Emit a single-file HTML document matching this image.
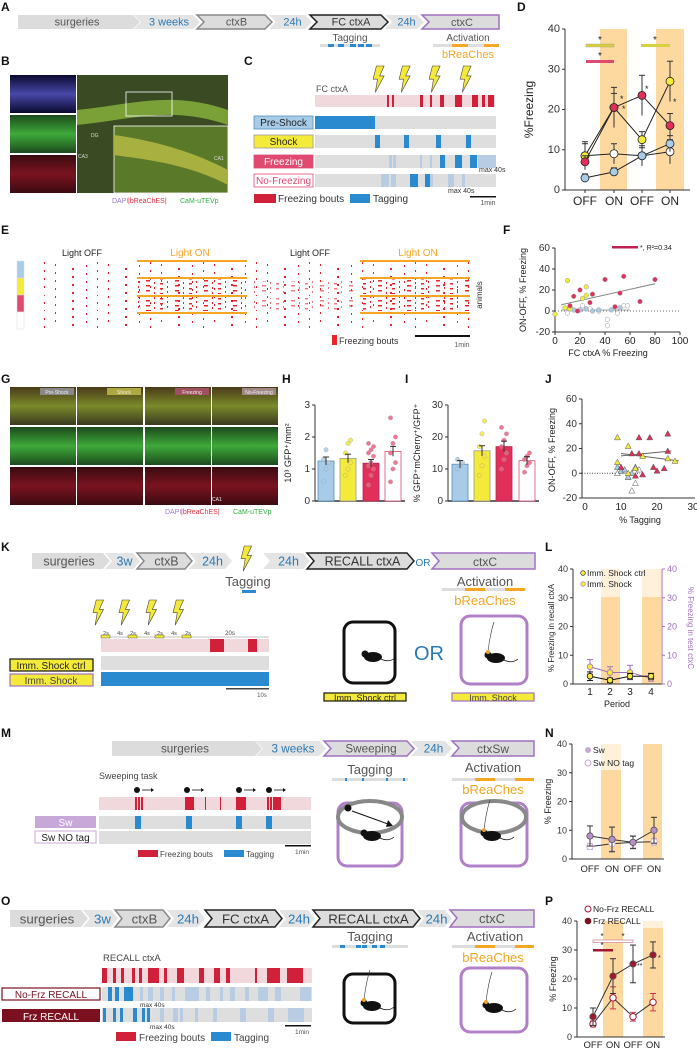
<!DOCTYPE html>
<html><head><meta charset="utf-8"><style>
body{margin:0;background:#fff}
svg{display:block;font-family:"Liberation Sans",Arial,sans-serif}
</style></head><body>
<svg id="fig" width="697" height="1050" viewBox="0 0 697 1050" xmlns="http://www.w3.org/2000/svg">
<defs>
<pattern id="rast" width="53" height="8" patternUnits="userSpaceOnUse">
<rect x="2" y="0" width="1" height="2" fill="#e8232a"/><rect x="19" y="4" width="2" height="2" fill="#e8232a"/><rect x="33" y="1" width="1" height="2" fill="#e8232a"/><rect x="44" y="6" width="1" height="2" fill="#e8232a"/>
</pattern>
<pattern id="rast2" width="29" height="5" patternUnits="userSpaceOnUse">
<rect x="1" y="0" width="4" height="1.5" fill="#e8232a"/><rect x="9" y="2" width="1" height="2" fill="#e8232a"/><rect x="15" y="3" width="3" height="1.5" fill="#e8232a"/><rect x="22" y="1" width="1" height="2" fill="#e8232a"/>
</pattern>
<linearGradient id="gG" x1="0" y1="0" x2="0" y2="1"><stop offset="0" stop-color="#1c4a1c"/><stop offset=".5" stop-color="#3faa3a"/><stop offset="1" stop-color="#1c4a1c"/></linearGradient>
<linearGradient id="gR" x1="0" y1="0" x2="0" y2="1"><stop offset="0" stop-color="#3a0a10"/><stop offset=".5" stop-color="#7a1420"/><stop offset="1" stop-color="#3a0a10"/></linearGradient>
<linearGradient id="gB" x1="0" y1="0" x2="0" y2="1"><stop offset="0" stop-color="#0a0a30"/><stop offset=".5" stop-color="#4848a8"/><stop offset="1" stop-color="#0a0a30"/></linearGradient>
<linearGradient id="gM" x1="0" y1="0" x2="0" y2="1"><stop offset="0" stop-color="#4a3a18"/><stop offset=".5" stop-color="#7a8a2a"/><stop offset="1" stop-color="#3a3a20"/></linearGradient>
</defs>
<g id="root"></g>
</svg>
<script>
// ---------- DATA ----------
const dCats=["OFF","ON","OFF","ON"];
const dBlue=[3,4.5,8.5,11.5];
const dWhite=[8.5,9,8.5,9.5];
const dYellow=[8.5,20.5,12.5,27];
const dPink=[7,20.5,23.5,16];
const dYTicks=[0,10,20,30,40];
const fPinkX=[12,15,20,28,30,40,48,52,55,68,80,18];
const fPinkY=[5,14,20,8,16,30,4,17,33,9,30,0];
const fYelX=[0,10,12,25,22,25,12,8];
const fYelY=[-3,29,4,23,12,15,2,3];
const fBlueX=[15,20,25,35,45,52,30];
const fBlueY=[1,1,2,1,1,3,0];
const fWhiteX=[10,22,28,50,55,42,42,58,35];
const fWhiteY=[-2,5,2,-2,5,-8,-14,5,0];
const fXTicks=[0,20,40,60,80,100];
const fYTicks=[-20,0,20,40,60];
const hMeans=[1.25,1.33,1.18,1.55];
const hDots=[[0.6,1,1.2,1.3,1.6],[0.8,1,1.2,1.5,1.8,1.9],[0.5,0.8,1,1.1,1.2,1.4,1.5,1.6,1.7,1.8],[0.6,1,1.2,1.5,1.8,2,2.6]];
const hTicks=[0,1,2,3];
const iMeans=[11.5,15.7,17,12.6];
const iDots=[[10,11,12,13],[8,11,14,17,21,25],[10,13,15,17,19,21,23],[9,11,12,13,14,15]];
const iTicks=[0,10,20,30];
const jPinkX=[10,13,15,15,16,18,19,20,22,23,23,14];
const jPinkY=[5,16,29,16,-1,29,5,2,4,32,18,-2];
const jYelX=[9,9,12,14,16,23,25,12];
const jYelY=[29,9,22,4,14,12,10,0];
const jBlueX=[9,10,12,13,11,14];
const jBlueY=[5,2,-3,0,3,5];
const jWhiteX=[9,13,14,15,12];
const jWhiteY=[0,-14,-8,3,-3];
const jXTicks=[0,10,20,30];
const jYTicks=[-20,0,20,40,60];
const lCats=["1","2","3","4"];
const lCtrl=[2.7,1.3,2.7,2.7];
const lShock=[6,4,4,2];
const lTicks=[0,10,20,30,40];
const nSw=[8,6.8,5.8,10];
const nNoTag=[4.3,5.3,5.8,6];
const pNoFrz=[4.5,13.5,7,12];
const pFrz=[7,21,25.2,28.3];
const pNoFrzErr=[1,3.8,1.5,3];
const pFrzErr=[3,6,6.5,4.5];

// ---------- helpers ----------
const NS="http://www.w3.org/2000/svg";
const root=document.getElementById('root');
function el(tag,attrs,parent,txt){const e=document.createElementNS(NS,tag);for(const k in attrs)e.setAttribute(k,attrs[k]);if(txt!==undefined)e.textContent=txt;(parent||root).appendChild(e);return e;}
function grp(name){const g=el('g',{});return g;}
function T(x,y,s,size,fill,g,anchor,extra){const t=el('text',Object.assign({x:x,y:y,'font-size':size||9,fill:fill||'#333','text-anchor':anchor||'start'},extra||{}),g,s);return t;}
function chev(g,x1,x2,y,h,fill,stroke,label,col,first){
  const p=7,m=y+h/2;
  const pts=first?`${x1},${y} ${x2-p},${y} ${x2},${m} ${x2-p},${y+h} ${x1},${y+h}`:`${x1},${y} ${x2-p},${y} ${x2},${m} ${x2-p},${y+h} ${x1},${y+h} ${x1+p},${m}`;
  el('polygon',{points:pts,fill:fill,stroke:stroke||'none','stroke-width':stroke?1.5:0},g);
  if(label)T((x1+x2)/2+(first?-2:2),y+h-3.5,label,h*0.78,col||'#555',g,'middle');
}
function panelLabel(s,x,y){const t=T(x,y,s,12,'#111',null,'start',{'font-weight':'bold'});}
function axesY(g,x,y0,y1,ticks,scale,size){el('line',{x1:x,y1:y0,x2:x,y2:y1,stroke:'#333','stroke-width':1},g);ticks.forEach(v=>{const y=scale(v);el('line',{x1:x-3,y1:y,x2:x,y2:y,stroke:'#333'},g);T(x-5,y+3,String(v),size||9,'#333',g,'end');});}
function bolt(g,x,y,s){el('polygon',{points:`${x+4*s},${y} ${x+11*s},${y} ${x+7*s},${y+9*s} ${x+11*s},${y+9*s} ${x+3*s},${y+24*s} ${x+5*s},${y+12*s} ${x+1*s},${y+12*s}`,fill:'#f4e93a',stroke:'#444','stroke-width':0.6},g);}
function box(g,x,y,w,h,stroke){el('rect',{x:x,y:y,width:w,height:h,rx:9,fill:'#fff',stroke:stroke,'stroke-width':3},g);}
function mouse(g,x,y,fib){el('ellipse',{cx:x,cy:y,rx:9,ry:5,fill:'#111'},g);el('circle',{cx:x-8,cy:y-3,r:3.5,fill:'#111'},g);el('path',{d:`M${x+8},${y+2} q8,4 14,-1`,stroke:'#111',fill:'none','stroke-width':0.8},g);if(fib){el('path',{d:`M${x-8},${y-6} q2,-18 6,-30`,stroke:'#333',fill:'none','stroke-width':0.6},g);el('circle',{cx:x-8,cy:y-6,r:2,fill:'#f0a030'},g);}}

// ---------- PANEL A ----------
panelLabel('A',1,11);
(function(){const g=grp('timeline-a');
chev(g,18,140,15,14,'#dcdcdc',null,'surgeries','#555',true);
chev(g,134,200,15,14,'#e4e4e4',null,'3 weeks','#2a7ab5');
chev(g,197,272,15,14,'#dcdcdc','#888','ctxB','#555');
chev(g,269,312,15,14,'#e4e4e4',null,'24h','#2a7ab5');
chev(g,310,388,15,14,'#dcdcdc','#222','FC ctxA','#333');
chev(g,385,424,15,14,'#e4e4e4',null,'24h','#2a7ab5');
el('polygon',{points:'422,15 499,15 499,29 422,29 429,22',fill:'#dcdcdc',stroke:'#a070c0','stroke-width':1.5},g);T(462,26,'ctxC',11,'#555',g,'middle');
T(350,41,'Tagging',10,'#555',g,'middle');el('rect',{x:320,y:44,width:60,height:3,fill:'#ddd'},g);[328,338,350,358,366].forEach(x=>el('rect',{x:x,y:44,width:6,height:3,fill:'#2a8ad0'},g));
T(468,41,'Activation',10,'#555',g,'middle');el('rect',{x:433,y:44,width:66,height:3,fill:'#ddd'},g);el('rect',{x:452,y:44,width:16,height:3,fill:'#f5a623'},g);el('rect',{x:484,y:44,width:15,height:3,fill:'#f5a623'},g);
T(468,58,'bReaChes',11,'#f5a623',g,'middle');})();

// ---------- PANEL B ----------
panelLabel('B',1,65);
(function(){const g=grp('histology-b');
el('rect',{x:10,y:75,width:66,height:38,fill:'url(#gB)'},g);
el('rect',{x:10,y:115,width:66,height:38,fill:'url(#gG)'},g);
el('rect',{x:10,y:155,width:66,height:38,fill:'url(#gR)'},g);
el('rect',{x:77,y:75,width:151,height:118,fill:'#3a4a22'},g);
el('path',{d:'M77,110 C130,105 170,90 228,110 L228,125 C170,105 130,120 77,125Z',fill:'#7aa038'},g);
el('rect',{x:114,y:126,width:114,height:67,fill:'#5a7a2a',stroke:'#fff','stroke-width':0.8},g);
el('path',{d:'M114,135 C150,140 190,150 228,170 L228,185 C190,165 150,160 114,155Z',fill:'#a8b040'},g);
el('rect',{x:126,y:92,width:46,height:24,fill:'none',stroke:'#fff','stroke-width':0.8},g);
T(91,137,'DG',5,'#ddd',g);T(78,158,'CA3',5,'#ddd',g);T(214,160,'CA1',5,'#ddd',g);
T(112,203,'DAPI',7,'#9a7ad0',g);T(128,203,'|bReaChES|',7,'#e03040',g);T(180,203,'CaM-uTEVp',7,'#30b040',g);})();

// ---------- PANEL C ----------
panelLabel('C',244,65);
(function(){const g=grp('protocol-c');
T(316,92,'FC ctxA',9,'#555',g);[372,398,428,459].forEach(x=>bolt(g,x,66,1.1));
el('rect',{x:315,y:95,width:180,height:12,fill:'#f0d8dc'},g);
[[387,2],[392,2],[420,3],[430,2],[440,4],[455,7],[472,6],[482,3],[488,6]].forEach(b=>el('rect',{x:b[0],y:95,width:b[1],height:12,fill:'#d0203a'},g));
const rows=[['Pre-Shock',116,'#a8cce8','#5090c0','#222'],['Shock',135,'#f4ea3a','#999','#222'],['Freezing',155,'#e04a70','#e04a70','#fff'],['No-Freezing',174,'#fff','#e04a70','#e04a70']];
rows.forEach(r=>{el('rect',{x:254,y:r[1],width:59,height:13,fill:r[2],stroke:r[3],'stroke-width':0.8},g);T(283.5,r[1]+10,r[0],10,r[4],g,'middle');el('rect',{x:315,y:r[1],width:181,height:13,fill:'#dedede'},g);});
el('rect',{x:315,y:116,width:60,height:13,fill:'#2a8ad0'},g);
[375,404,436,466].forEach(x=>el('rect',{x:x,y:135,width:5,height:13,fill:'#2a8ad0'},g));
[[389,3],[393,3],[420,2],[430,2],[440,5],[455,7],[470,7]].forEach((b,i)=>el('rect',{x:b[0],y:155,width:b[1],height:13,fill:i>3?'#2a8ad0':'#b8cce4'},g));
el('rect',{x:478,y:155,width:18,height:13,fill:'#b8cce4'},g);
[[381,8],[391,5],[410,8],[425,5],[430,3],[448,6],[462,3]].forEach((b,i)=>el('rect',{x:b[0],y:174,width:b[1],height:13,fill:(i==2||i==3)?'#2a8ad0':'#b8cce4'},g));
T(479,172,'max 40s',7,'#333',g);T(448,193,'max 40s',7,'#333',g);
el('rect',{x:254,y:194,width:22,height:9,fill:'#d0203a'},g);T(278,202,'Freezing bouts',10,'#333',g);
el('rect',{x:350,y:194,width:20,height:9,fill:'#2a8ad0'},g);T(373,202,'Tagging',10,'#333',g);
el('rect',{x:470,y:196,width:26,height:1.5,fill:'#111'},g);T(488,205,'1min',7,'#555',g,'middle');})();

// ---------- PANEL D ----------
panelLabel('D',517,11);
(function(){const g=grp('chart-d');
const ax=565,y0=190,y1=29,xs=[585,614,642,670];
const y=v=>y0-(v/40)*(y0-y1);
el('rect',{x:600,y:y1,width:27,height:y0-y1,fill:'#fdd9a0'},g);el('rect',{x:656,y:y1,width:28,height:y0-y1,fill:'#fdd9a0'},g);
axesY(g,ax,y0,y1,dYTicks,y,11);el('line',{x1:ax,y1:y0,x2:690,y2:y0,stroke:'#333'},g);
dCats.forEach((c,i)=>{el('line',{x1:xs[i],y1:y0,x2:xs[i],y2:y0+3,stroke:'#333'},g);T(xs[i],y0+15,c,12,'#222',g,'middle');});
T(0,0,'%Freezing',12,'#222',g,'middle',{transform:`translate(533,${(y0+y1)/2}) rotate(-90)`});
el('rect',{x:586,y:44,width:28,height:3,fill:'#d8d040',stroke:'#888','stroke-width':0.3},g);el('rect',{x:641,y:44,width:29,height:3,fill:'#d8d040'},g);el('rect',{x:586,y:60,width:28,height:3,fill:'#e04a70'},g);
T(600,43,'*',10,'#222',g,'middle');T(655,43,'*',10,'#222',g,'middle');T(600,59,'*',10,'#222',g,'middle');
const ser=[[dWhite,'#fff',[3,2.5,2.5,3]],[dBlue,'#a8cce8',[1,1,2,2]],[dYellow,'#f4ea3a',[3.5,3.5,2,5]],[dPink,'#e0305a',[1.5,5,5,3]]];
ser.forEach((s,si)=>{const sg=el('g',{},g);
 el('polyline',{points:s[0].map((v,i)=>xs[i]+','+y(v)).join(' '),fill:'none',stroke:'#222','stroke-width':1},sg);
 s[0].forEach((v,i)=>{el('line',{x1:xs[i],y1:y(v-s[2][i]),x2:xs[i],y2:y(v+s[2][i]),stroke:'#333'},sg);el('line',{x1:xs[i]-3,y1:y(v+s[2][i]),x2:xs[i]+3,y2:y(v+s[2][i]),stroke:'#333'},sg);el('circle',{cx:xs[i],cy:y(v),r:4,fill:s[1],stroke:'#222','stroke-width':0.8},sg);});});
T(620,102,'*',9,'#222',g);T(622,112,'*',9,'#222',g);T(645,92,'*',9,'#222',g);T(673,105,'*',9,'#222',g);})();

// ---------- PANEL E ----------
panelLabel('E',1,234);
(function(){const g=grp('raster-e');
T(82,256,'Light OFF',9,'#222',g,'middle');T(190,256,'Light ON',10,'#f5a623',g,'middle');T(310,256,'Light OFF',9,'#222',g,'middle');T(418,256,'Light ON',10,'#f5a623',g,'middle');
const cols=[['#a8cce8',261],['#f4ea3a',278],['#e04a70',295],['#fff',312]];
cols.forEach(c=>el('rect',{x:17,y:c[1],width:7,height:17,fill:c[0],stroke:'#ddd','stroke-width':0.5},g));
[262,278,295,312].forEach(yy=>el('rect',{x:42,y:yy,width:428,height:16,fill:'url(#rast)'},g));
[278,295].forEach(yy=>{el('rect',{x:137,y:yy+1,width:110,height:15,fill:'url(#rast2)'},g);el('rect',{x:360,y:yy+1,width:110,height:15,fill:'url(#rast2)'},g);el('rect',{x:250,y:yy+3,width:105,height:12,fill:'url(#rast2)',opacity:0.6},g);});
[260,277,295,312].forEach(yy=>{el('rect',{x:137,y:yy,width:110,height:2,fill:'#f5a623'},g);el('rect',{x:360,y:yy,width:110,height:2,fill:'#f5a623'},g);});
T(0,0,'animals',8,'#333',g,'middle',{transform:'translate(482,295) rotate(-90)'});
el('rect',{x:332,y:335,width:5,height:10,fill:'#e8232a'},g);T(339,344,'Freezing bouts',9,'#333',g);
el('rect',{x:415,y:335,width:55,height:2,fill:'#111'},g);T(462,347,'1min',7,'#555',g,'middle');})();

// ---------- PANEL F ----------
panelLabel('F',503,234);
(function(){const g=grp('chart-f');
const ax=555,y0=332,y1=248,x=v=>ax+v*1.25,y=v=>y0-(v+20)/80*(y0-y1);
axesY(g,ax,y0,y1,fYTicks,y,10);el('line',{x1:ax,y1:y0,x2:680,y2:y0,stroke:'#333'},g);
fXTicks.forEach(v=>{el('line',{x1:x(v),y1:y0,x2:x(v),y2:y0+3,stroke:'#333'},g);T(x(v),y0+12,String(v),10,'#222',g,'middle');});
el('line',{x1:ax,y1:y(0),x2:680,y2:y(0),stroke:'#666','stroke-dasharray':'1,2'},g);
T(608,356,'FC ctxA % Freezing',9,'#222',g,'middle');T(0,0,'ON-OFF, % Freezing',9,'#222',g,'middle',{transform:'translate(526,290) rotate(-90)'});
el('line',{x1:x(5),y1:y(6),x2:x(80),y2:y(26),stroke:'#888'},g);el('line',{x1:x(5),y1:y(1),x2:x(60),y2:y(1),stroke:'#aaa'},g);
[[fWhiteX,fWhiteY,'#fff'],[fBlueX,fBlueY,'#a8cce8'],[fYelX,fYelY,'#f4ea3a'],[fPinkX,fPinkY,'#e0305a']].forEach(s=>s[0].forEach((v,i)=>el('circle',{cx:x(v),cy:y(s[1][i]),r:2.3,fill:s[2],stroke:'#999','stroke-width':0.5},g)));
el('rect',{x:612,y:246,width:26,height:2.5,fill:'#c02050'},g);T(640,250,'*, R²=0.34',7,'#222',g);})();

// ---------- PANEL G ----------
panelLabel('G',1,383);
(function(){const g=grp('histology-g');
const xs=[10,77,145,212],labs=['Pre-Shock','Shock','Freezing','No-Freezing'],lc=['#888','#b0a840','#a05060','#a08888'];
xs.forEach((x,i)=>{el('rect',{x:x,y:387,width:66,height:38,fill:'url(#gM)'},g);el('rect',{x:x,y:427,width:66,height:38,fill:'url(#gG)'},g);el('rect',{x:x,y:467,width:66,height:38,fill:'url(#gR)'},g);
 el('rect',{x:x+30,y:388,width:34,height:7,fill:lc[i]},g);T(x+47,394,labs[i],5,'#eee',g,'middle');});
T(212,501,'CA1',5,'#eee',g);
T(165,514,'DAPI',7,'#9a7ad0',g);T(181,514,'|bReaChES|',7,'#e03040',g);T(233,514,'CaM-uTEVp',7,'#30b040',g);})();

// ---------- PANEL H & I ----------
function barChart(name,means,dots,ticks,ax,xs,y0,y1,title,tx){
 const g=grp(name);const mx=ticks[ticks.length-1];const y=v=>y0-v/mx*(y0-y1);
 const fills=['#a8cce8','#f4ea3a','#e0305a','#fff'],strokes=['#5090c0','#999','#c02050','#e04a70'],dc=['#a8cce8','#f4ea3a','#f06080','#f06080'];
 axesY(g,ax,y0,y1,ticks,y,10);el('line',{x1:ax,y1:y0,x2:xs[3]+12,y2:y0,stroke:'#333','stroke-width':1.5},g);
 means.forEach((m,i)=>{el('rect',{x:xs[i]-8,y:y(m),width:16,height:y0-y(m),fill:fills[i],stroke:strokes[i],'stroke-width':0.8},g);
  dots[i].forEach((d,j)=>el('circle',{cx:xs[i]+((j%3)-1)*2.5,cy:y(d),r:2.2,fill:dc[i],stroke:'#999','stroke-width':0.4,opacity:0.85},g));
  el('line',{x1:xs[i],y1:y(m*0.9),x2:xs[i],y2:y(m*1.1),stroke:'#333'},g);el('line',{x1:xs[i]-3,y1:y(m*1.1),x2:xs[i]+3,y2:y(m*1.1),stroke:'#333'},g);});
 T(0,0,title,9,'#222',g,'middle',{transform:`translate(${tx},${(y0+y1)/2}) rotate(-90)`});
}
panelLabel('H',282,383);panelLabel('I',405,383);
barChart('chart-h',hMeans,hDots,hTicks,315,[326,348,371,393],501,405,'10³ GFP⁺/mm²',291);
barChart('chart-i',iMeans,iDots,iTicks,448,[460,482,504,527],501,405,'% GFP⁺mCherry⁺/GFP⁺',420);

// ---------- PANEL J ----------
panelLabel('J',545,383);
(function(){const g=grp('chart-j');
const ax=582,y0=498,y1=399,x=v=>585+v*3.6,y=v=>y0-(v+20)/80*(y0-y1);
axesY(g,ax,y0,y1,jYTicks,y,10);el('line',{x1:ax,y1:y0,x2:695,y2:y0,stroke:'#333'},g);
jXTicks.forEach(v=>{T(x(v),y0+12,String(v),10,'#222',g,'middle');});
el('line',{x1:ax,y1:y(0),x2:640,y2:y(0),stroke:'#444','stroke-dasharray':'1,1.5'},g);
T(640,523,'% Tagging',9,'#222',g,'middle');T(0,0,'ON-OFF, % Freezing',9,'#222',g,'middle',{transform:'translate(555,450) rotate(-90)'});
el('line',{x1:x(10),y1:y(14),x2:x(24),y2:y(18),stroke:'#666'},g);el('line',{x1:x(10),y1:y(16),x2:x(26),y2:y(10),stroke:'#666'},g);
[[jWhiteX,jWhiteY,'#fff'],[jBlueX,jBlueY,'#a8cce8'],[jYelX,jYelY,'#f4ea3a'],[jPinkX,jPinkY,'#e0305a']].forEach(s=>s[0].forEach((v,i)=>{const cx=x(v),cy=y(s[1][i]);el('polygon',{points:`${cx},${cy-3} ${cx+3},${cy+2.5} ${cx-3},${cy+2.5}`,fill:s[2],stroke:'#555','stroke-width':0.5},g);}));})();

// ---------- PANEL K ----------
panelLabel('K',1,551);
(function(){const g=grp('protocol-k');
chev(g,32,110,553,16,'#dcdcdc',null,'surgeries','#555',true);
chev(g,105,140,553,16,'#e4e4e4',null,'3w','#2a7ab5');
chev(g,137,192,553,16,'#dcdcdc','#888','ctxB','#555');
chev(g,189,232,553,16,'#e4e4e4',null,'24h','#2a7ab5');
bolt(g,240,546,1.05);
chev(g,263,310,553,16,'#e4e4e4',null,'24h','#2a7ab5');
chev(g,307,414,553,16,'#dcdcdc','#222','RECALL ctxA','#333');
T(423,566,'OR',10,'#2a7ab5',g,'middle');
el('polygon',{points:'432,553 535,553 535,569 432,569 439,561',fill:'#dcdcdc',stroke:'#a070c0','stroke-width':1.5},g);T(485,566,'ctxC',12,'#555',g,'middle');
T(248,586,'Tagging',13,'#555',g,'middle');el('rect',{x:242,y:590,width:14,height:3,fill:'#2a8ad0'},g);
T(485,586,'Activation',13,'#555',g,'middle');el('rect',{x:442,y:588,width:84,height:3,fill:'#ddd'},g);el('rect',{x:465,y:588,width:20,height:3,fill:'#f5a623'},g);el('rect',{x:505,y:588,width:20,height:3,fill:'#f5a623'},g);
T(485,605,'bReaChes',13,'#f5a623',g,'middle');
[92,118,145,172].forEach(x=>bolt(g,x,600,1.05));
T(106,635,'2s',5.5,'#444',g,'middle');T(120,635,'4s',5.5,'#444',g,'middle');T(133,635,'2s',5.5,'#444',g,'middle');T(147,635,'4s',5.5,'#444',g,'middle');T(160,635,'2s',5.5,'#444',g,'middle');T(174,635,'4s',5.5,'#444',g,'middle');T(188,635,'2s',5.5,'#444',g,'middle');T(230,635,'20s',6,'#444',g,'middle');
el('line',{x1:101,y1:637,x2:269,y2:637,stroke:'#888','stroke-width':0.6},g);
[101,128,155,182].forEach(x=>el('rect',{x:x,y:635,width:9,height:3,fill:'#f4ea3a',stroke:'#333','stroke-width':0.4},g));
el('rect',{x:101,y:639,width:168,height:13,fill:'#f0d8dc'},g);el('rect',{x:210,y:639,width:14,height:13,fill:'#d0203a'},g);el('rect',{x:248,y:639,width:9,height:13,fill:'#d0203a'},g);
el('rect',{x:101,y:656,width:168,height:14,fill:'#dedede'},g);el('rect',{x:101,y:672,width:168,height:14,fill:'#2a8ad0'},g);
el('rect',{x:10,y:659,width:83,height:12,fill:'#f4ea3a',stroke:'#111','stroke-width':1.2},g);T(51,669,'Imm. Shock ctrl',10,'#222',g,'middle');
el('rect',{x:10,y:674,width:83,height:12,fill:'#f4ea3a',stroke:'#a070c0','stroke-width':1.2},g);T(51,684,'Imm. Shock',10,'#444',g,'middle');
el('rect',{x:226,y:688,width:43,height:1.5,fill:'#444'},g);T(262,697,'10s',6,'#555',g,'middle');
box(g,344,622,51,61,'#111');mouse(g,373,657,false);
T(429,660,'OR',20,'#2a7ab5',g,'middle');
box(g,461,616,66,68,'#b080c8');mouse(g,496,658,true);
el('rect',{x:324,y:693,width:82,height:8,fill:'#f4ea3a',stroke:'#111','stroke-width':1.2},g);T(365,701,'Imm. Shock ctrl',9,'#222',g,'middle');
el('rect',{x:452,y:693,width:82,height:8,fill:'#f4ea3a',stroke:'#a070c0','stroke-width':1.2},g);T(493,701,'Imm. Shock',9,'#444',g,'middle');})();

// ---------- line chart helper ----------
function lineChart(name,g,xs,y,seriesList){
 seriesList.forEach((s,si)=>{const sg=el('g',{},g);
  el('polyline',{points:s.vals.map((v,i)=>xs[i]+','+y(v)).join(' '),fill:'none',stroke:s.line,'stroke-width':1},sg);
  s.vals.forEach((v,i)=>{const e=s.err[i];el('line',{x1:xs[i],y1:y(v-e),x2:xs[i],y2:y(v+e),stroke:s.ec},sg);el('line',{x1:xs[i]-3,y1:y(v+e),x2:xs[i]+3,y2:y(v+e),stroke:s.ec},sg);el('line',{x1:xs[i]-3,y1:y(v-e),x2:xs[i]+3,y2:y(v-e),stroke:s.ec},sg);el('circle',{cx:xs[i],cy:y(v),r:s.r||3.2,fill:s.fill,stroke:s.stroke,'stroke-width':s.sw||0.8},sg);});});
}

// ---------- PANEL L ----------
panelLabel('L',545,551);
(function(){const g=grp('chart-l');
const ax=573,y0=684,y1=569,xs=[590,610,630,651],y=v=>y0-v/40*(y0-y1);
el('rect',{x:601,y:y1,width:19,height:y0-y1,fill:'#fdd9a0'},g);el('rect',{x:642,y:y1,width:19,height:y0-y1,fill:'#fdd9a0'},g);
el('rect',{x:601,y:y1,width:19,height:28,fill:'#fff',opacity:0.6},g);el('rect',{x:642,y:y1,width:19,height:28,fill:'#fff',opacity:0.6},g);
axesY(g,ax,y0,y1,lTicks,y,9);el('line',{x1:ax,y1:y0,x2:662,y2:y0,stroke:'#333'},g);
el('line',{x1:662,y1:y0,x2:662,y2:y1,stroke:'#a070c0'},g);lTicks.forEach(v=>{el('line',{x1:662,y1:y(v),x2:665,y2:y(v),stroke:'#a070c0'},g);T(667,y(v)+3,String(v),9,'#a070c0',g);});
lCats.forEach((c,i)=>T(xs[i],y0+11,c,10,'#222',g,'middle'));T(617,707,'Period',9,'#222',g,'middle');
T(0,0,'% Freezing in recall ctxA',8,'#222',g,'middle',{transform:'translate(554,628) rotate(-90)'});
T(0,0,'% Freezing in test ctxC',8,'#a070c0',g,'middle',{transform:'translate(688,628) rotate(90)'});
el('circle',{cx:583,cy:573,r:2.3,fill:'#f4ea3a',stroke:'#111','stroke-width':0.6},g);T(587,576,'Imm. Shock ctrl',8.5,'#222',g);
el('circle',{cx:583,cy:584,r:2.3,fill:'#f4ea3a',stroke:'#a070c0','stroke-width':0.6},g);T(587,587,'Imm. Shock',8.5,'#222',g);
lineChart('chart-l',g,xs,y,[{vals:lShock,err:[2.5,2,2.5,1],line:'#a070c0',ec:'#a070c0',fill:'#f4ea3a',stroke:'#a070c0',r:2.8},{vals:lCtrl,err:[1.5,0.8,1,1],line:'#111',ec:'#111',fill:'#f4ea3a',stroke:'#111',r:2.8}]);})();

// ---------- PANEL M ----------
panelLabel('M',1,737);
(function(){const g=grp('protocol-m');
chev(g,112,262,741,15,'#dcdcdc',null,'surgeries','#555',true);
chev(g,256,326,741,15,'#e4e4e4',null,'3 weeks','#2a7ab5');
chev(g,324,414,741,15,'#dcdcdc','#a070c0','Sweeping','#555');
chev(g,411,452,741,15,'#e4e4e4',null,'24h','#2a7ab5');
el('polygon',{points:'452,741 534,741 534,756 452,756 459,748',fill:'#dcdcdc',stroke:'#a070c0','stroke-width':1.5},g);T(493,753,'ctxSw',12,'#555',g,'middle');
T(370,774,'Tagging',13,'#555',g,'middle');el('rect',{x:332,y:778,width:76,height:3,fill:'#ddd'},g);[345,362,386,403].forEach(x=>el('rect',{x:x,y:778,width:2,height:3,fill:'#2a8ad0'},g));
T(493,772,'Activation',13,'#555',g,'middle');el('rect',{x:452,y:778,width:82,height:3,fill:'#ddd'},g);el('rect',{x:475,y:778,width:20,height:3,fill:'#f5a623'},g);el('rect',{x:515,y:778,width:19,height:3,fill:'#f5a623'},g);
T(493,794,'bReaChes',13,'#f5a623',g,'middle');
T(99,779,'Sweeping task',9,'#444',g);
[137,187,239,269].forEach(x=>{el('circle',{cx:x,cy:790,r:3,fill:'#111'},g);el('line',{x1:x+5,y1:790,x2:x+14,y2:790,stroke:'#111','stroke-width':0.8},g);el('polygon',{points:`${x+14},788 ${x+17},790 ${x+14},792`,fill:'#111'},g);});
el('rect',{x:99,y:797,width:212,height:13,fill:'#f0d8dc'},g);
[[135,2],[138,2],[141,2],[185,9],[205,1],[220,1],[236,10],[267,2],[270,2],[273,8]].forEach(b=>el('rect',{x:b[0],y:797,width:b[1],height:13,fill:'#d0203a'},g));
el('rect',{x:35,y:816,width:61,height:12,fill:'#c8a8d8'},g);T(65.5,826,'Sw',10,'#fff',g,'middle');
el('rect',{x:99,y:816,width:212,height:13,fill:'#dedede'},g);[135,186,236,266].forEach(x=>el('rect',{x:x,y:816,width:6,height:13,fill:'#2a8ad0'},g));
el('rect',{x:35,y:831,width:61,height:12,fill:'#fff',stroke:'#c8a8d8','stroke-width':1},g);T(65.5,841,'Sw NO tag',10,'#222',g,'middle');
el('rect',{x:99,y:831,width:212,height:13,fill:'#dedede'},g);
el('rect',{x:138,y:850,width:20,height:7,fill:'#d0203a'},g);T(160,857,'Freezing bouts',8,'#444',g);
el('rect',{x:224,y:850,width:20,height:7,fill:'#2a8ad0'},g);T(246,857,'Tagging',8,'#444',g);
el('rect',{x:285,y:845,width:26,height:1.5,fill:'#111'},g);T(302,854,'1min',6.5,'#555',g,'middle');
box(g,338,803,64,63,'#b080c8');el('ellipse',{cx:370,cy:817,rx:32,ry:16,fill:'#fff',stroke:'#888','stroke-width':4},g);el('circle',{cx:348,cy:808,r:3.5,fill:'#111'},g);el('line',{x1:352,y1:811,x2:388,y2:824,stroke:'#111','stroke-width':1},g);el('polygon',{points:'388,820 393,826 386,827',fill:'#111'},g);mouse(g,372,836,false);
box(g,461,803,66,63,'#b080c8');el('ellipse',{cx:494,cy:817,rx:32,ry:16,fill:'#fff',stroke:'#888','stroke-width':4},g);mouse(g,492,836,true);})();

// ---------- PANEL N ----------
panelLabel('N',545,737);
(function(){const g=grp('chart-n');
const ax=572,y0=859,y1=744,xs=[590,612,633,654],y=v=>y0-v/40*(y0-y1);
el('rect',{x:601,y:y1,width:20,height:y0-y1,fill:'#fdd9a0'},g);el('rect',{x:643,y:y1,width:19,height:y0-y1,fill:'#fdd9a0'},g);el('rect',{x:601,y:y1,width:20,height:26,fill:'#fff',opacity:0.6},g);
axesY(g,ax,y0,y1,[0,10,20,30,40],y,9);el('line',{x1:ax,y1:y0,x2:664,y2:y0,stroke:'#333'},g);
dCats.forEach((c,i)=>T(xs[i],y0+13,c,9.5,'#222',g,'middle'));
T(0,0,'% Freezing',9,'#222',g,'middle',{transform:`translate(551,${(y0+y1)/2}) rotate(-90)`});
el('circle',{cx:588,cy:750,r:3,fill:'#c8a8d8'},g);T(593,753,'Sw',8.5,'#222',g);
el('circle',{cx:588,cy:763,r:3,fill:'#fff',stroke:'#c8a8d8'},g);T(593,766,'Sw NO tag',8.5,'#222',g);
lineChart('chart-n',g,xs,y,[{vals:nNoTag,err:[1,2.5,2,1.2],line:'#333',ec:'#c8a8d8',fill:'#fff',stroke:'#c8a8d8'},{vals:nSw,err:[3.5,4.3,2.2,4.5],line:'#333',ec:'#333',fill:'#b890c8',stroke:'#555'}]);})();

// ---------- PANEL O ----------
panelLabel('O',1,905);
(function(){const g=grp('protocol-o');
chev(g,10,88,910,17,'#dcdcdc',null,'surgeries','#555',true);
chev(g,83,118,910,17,'#e4e4e4',null,'3w','#2a7ab5');
chev(g,115,170,910,17,'#dcdcdc','#888','ctxB','#555');
chev(g,167,205,910,17,'#e4e4e4',null,'24h','#2a7ab5');
chev(g,205,282,910,17,'#dcdcdc','#222','FC ctxA','#333');
chev(g,279,315,910,17,'#e4e4e4',null,'24h','#2a7ab5');
chev(g,313,420,910,17,'#dcdcdc','#222','RECALL ctxA','#333');
chev(g,417,452,910,17,'#e4e4e4',null,'24h','#2a7ab5');
el('polygon',{points:'450,910 534,910 534,927 450,927 457,918',fill:'#dcdcdc',stroke:'#a070c0','stroke-width':1.5},g);T(492,923,'ctxC',13,'#555',g,'middle');
T(370,941,'Tagging',13,'#555',g,'middle');el('rect',{x:332,y:945,width:76,height:3,fill:'#ddd'},g);[340,356,362,372,380].forEach(x=>el('rect',{x:x,y:945,width:5,height:3,fill:'#2a8ad0'},g));
T(495,941,'Activation',13,'#555',g,'middle');el('rect',{x:452,y:945,width:82,height:3,fill:'#ddd'},g);el('rect',{x:475,y:945,width:20,height:3,fill:'#f5a623'},g);el('rect',{x:515,y:945,width:19,height:3,fill:'#f5a623'},g);
T(493,962,'bReaChes',13,'#f5a623',g,'middle');
T(103,961,'RECALL ctxA',9.5,'#444',g);
el('rect',{x:102,y:968,width:210,height:15,fill:'#f0d8dc'},g);
[[102,5],[113,3],[121,3],[132,3],[139,3],[148,11],[164,3],[177,7],[199,5],[214,6],[226,4],[255,2],[267,13],[287,16]].forEach(b=>el('rect',{x:b[0],y:968,width:b[1],height:15,fill:'#d0203a'},g));
el('rect',{x:2,y:988,width:98,height:12,fill:'#fff',stroke:'#7a1020','stroke-width':1.2},g);T(51,998,'No-Frz RECALL',10,'#7a1020',g,'middle');
el('rect',{x:102,y:987,width:210,height:14,fill:'#dedede'},g);
[[108,4],[115,4],[124,9]].forEach(b=>el('rect',{x:b[0],y:987,width:b[1],height:14,fill:'#2a8ad0'},g));
[[140,3],[148,5],[160,4],[172,3],[185,14],[206,4],[220,3],[230,5],[245,4],[258,10],[275,6],[300,11]].forEach(b=>el('rect',{x:b[0],y:987,width:b[1],height:14,fill:'#b8cce4'},g));
el('rect',{x:2,y:1009,width:98,height:13,fill:'#7a1020'},g);T(51,1020,'Frz RECALL',10,'#fff',g,'middle');
el('rect',{x:102,y:1008,width:210,height:14,fill:'#dedede'},g);
[[103,3],[113,3],[120,3],[133,4],[142,3],[147,3]].forEach(b=>el('rect',{x:b[0],y:1008,width:b[1],height:14,fill:'#2a8ad0'},g));
[[160,4],[173,5],[180,3],[195,3],[213,4],[240,6],[268,6],[288,16]].forEach(b=>el('rect',{x:b[0],y:1008,width:b[1],height:14,fill:'#b8cce4'},g));
T(140,1007,'max 40s',6.5,'#333',g);T(150,1029,'max 40s',6.5,'#333',g);
el('rect',{x:116,y:1032,width:20,height:9,fill:'#d0203a'},g);T(139,1041,'Freezing bouts',10,'#444',g);
el('rect',{x:211,y:1032,width:20,height:9,fill:'#2a8ad0'},g);T(234,1041,'Tagging',10,'#444',g);
el('rect',{x:285,y:1025,width:26,height:1.5,fill:'#111'},g);T(302,1034,'1min',6.5,'#555',g,'middle');
box(g,344,974,51,49,'#111');mouse(g,372,1006,true);
box(g,461,968,66,64,'#b080c8');mouse(g,494,1008,true);})();

// ---------- PANEL P ----------
panelLabel('P',545,905);
(function(){const g=grp('chart-p');
const ax=577,y0=1037,y1=921,xs=[593,613,633,653],y=v=>y0-v/40*(y0-y1);
el('rect',{x:603,y:y1,width:20,height:y0-y1,fill:'#fdd9a0'},g);el('rect',{x:643,y:y1,width:20,height:y0-y1,fill:'#fdd9a0'},g);el('rect',{x:643,y:y1,width:20,height:7,fill:'#fff',opacity:0.6},g);
axesY(g,ax,y0,y1,[0,10,20,30,40],y,9);el('line',{x1:ax,y1:y0,x2:665,y2:y0,stroke:'#333'},g);
dCats.forEach((c,i)=>T(xs[i],y0+11,c,9.5,'#222',g,'middle'));
T(0,0,'% Freezing',9,'#222',g,'middle',{transform:`translate(556,${(y0+y1)/2}) rotate(-90)`});
el('circle',{cx:588,cy:909,r:3,fill:'#fff',stroke:'#a01830'},g);T(593,912,'No-Frz RECALL',8.5,'#222',g);
el('circle',{cx:588,cy:921,r:3.3,fill:'#7a1020'},g);T(593,924,'Frz RECALL',8.5,'#222',g);
el('rect',{x:593,y:940,width:40,height:2.5,fill:'#fff',stroke:'#d090a0','stroke-width':0.8},g);el('rect',{x:593,y:949,width:20,height:2.5,fill:'#a01830'},g);
T(602,939,'*',8,'#222',g,'middle');T(623,939,'*',8,'#222',g,'middle');T(602,948,'*',8,'#222',g,'middle');T(637,968,'**',7,'#222',g);T(658,960,'*',7,'#222',g);
lineChart('chart-p',g,xs,y,[{vals:pNoFrz,err:pNoFrzErr,line:'#333',ec:'#d03050',fill:'#fff',stroke:'#a01830',sw:1},{vals:pFrz,err:pFrzErr,line:'#333',ec:'#333',fill:'#a01830',stroke:'#555'}]);})();
</script>
</body></html>
